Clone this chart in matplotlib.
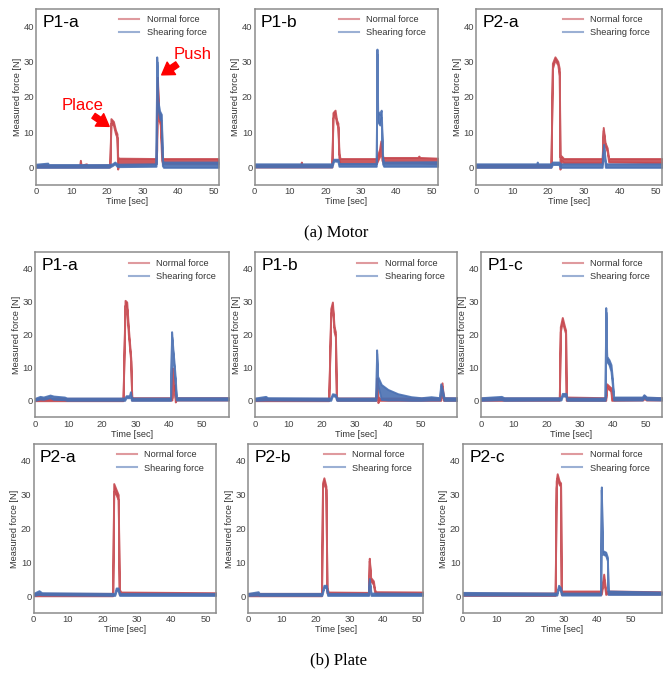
import matplotlib
matplotlib.use("Agg")
import matplotlib.pyplot as plt
from matplotlib.lines import Line2D

plt.rcParams['font.family'] = ['Liberation Sans', 'DejaVu Sans']

RED = '#C6484F'
BLUE = '#4A70B2'

# each series: (time [sec], lower edge, upper edge)
motor_p1a_normal = [(0, 0.1, 0.6), (12.3, 0.1, 0.6), (12.5, 0.1, 2.0), (12.7, 0.1, 0.6), (14.2, 0.1, 1.0),
                    (14.4, 0.1, 0.6), (20.8, 0.1, 0.7), (21.1, 12.5, 13.8), (21.8, 12.0, 13.0), (22.4, 9.5, 10.5),
                    (22.8, 8.5, 9.5), (23.0, -0.5, 3.0), (23.3, 0.8, 2.6), (33.8, 1.0, 2.5), (34.0, 5, 10),
                    (34.2, 24, 25.5), (34.5, 14, 16), (35.0, 12, 15), (35.4, 2, 5), (35.7, 1.0, 2.5), (51.3, 1.0, 2.5)]
motor_p1a_shear = [(0, 0.0, 0.9), (3.3, 0.0, 1.2), (3.5, 0, 0.8), (20.5, 0.0, 0.8), (21.5, 0.5, 1.0), (22.2, 1.0, 1.5),
                   (22.8, 0.3, 1.0), (23.2, 0.2, 0.9), (33.8, 0.3, 1.0), (34.0, 30, 31.3), (34.3, 17, 19),
                   (34.8, 14, 16), (35.3, 13, 15), (35.6, 0.5, 2), (35.9, 0.0, 1.5), (51.3, 0.0, 1.5)]

motor_p1b_normal = [(0, 0.1, 0.7), (13.0, 0.1, 0.7), (13.2, 0.1, 1.5), (13.4, 0.1, 0.7), (21.8, 0.1, 0.7),
                    (22.1, 14, 15.5), (22.7, 15, 16.2), (23.1, 12.5, 13.5), (23.5, 11.5, 12.5), (23.8, 2, 4),
                    (24.1, 1, 2.5), (34.3, 1, 2.5), (35.2, 3, 5), (35.6, 6, 7.5), (35.9, 2, 3.5), (36.3, 1.2, 2.8),
                    (46, 1.2, 2.8), (46.3, 1.2, 3.2), (46.6, 1.2, 2.8), (51.7, 1.0, 2.6)]
motor_p1b_shear = [(0, 0.1, 1.0), (21.8, 0.1, 1.0), (22.3, 1.8, 2.3), (23.5, 1.7, 2.3), (23.8, 0.3, 1.1),
                   (34.3, 0.3, 1.1), (34.5, 32, 33.5), (34.7, 13, 16), (35.3, 12, 15), (35.7, 14, 16.2),
                   (36.1, 1, 3), (36.4, 0.3, 1.5), (51.7, 0.3, 1.6)]

motor_p2a_normal = [(0, 0.1, 0.7), (20.8, 0.1, 0.7), (21.2, 28, 29.5), (21.9, 30.5, 31.3), (22.7, 29, 30),
                    (23.1, 26, 28), (23.3, -0.5, 3), (23.7, 2, 3.2), (24.3, 1.3, 2.5), (35.0, 1.3, 2.5),
                    (35.3, 10.5, 11.3), (35.8, 6, 7), (36.4, 4.5, 5.5), (36.8, 1.5, 2.5), (52, 1.3, 2.5)]
motor_p2a_shear = [(0, 0.0, 1.0), (16.8, 0, 1), (17, 0, 1.5), (17.2, 0, 1), (20.8, 0, 1), (21.2, 0.8, 1.5),
                   (23.0, 0.8, 1.5), (23.3, 0, 1), (35.0, 0, 1), (35.4, 5.5, 6.5), (35.9, 0, 1.5), (36.2, 0, 1),
                   (52, 0, 1)]

plate_p1a_normal = [(0, 0.1, 0.8), (26.3, 0.1, 0.8), (26.9, 29, 30.5), (27.4, 28, 30), (27.9, 20, 22),
                    (28.6, 12, 13), (28.9, 0.3, 1), (40.9, 0.3, 1), (41.1, 9, 10), (41.4, 3, 5), (41.7, 3, 5),
                    (41.9, -0.3, 1), (42.2, 0.3, 1), (57.8, 0.3, 1)]
plate_p1a_shear = [(0, 0.2, 0.8), (1.5, 0.6, 1.4), (2.5, 0.5, 1.2), (4.5, 1.0, 1.8), (5.5, 0.5, 1.5),
                   (8.8, 0.4, 1.2), (9.5, 0.2, 0.9), (26.8, 0.2, 0.9), (27.2, 1, 1.6), (28.2, 1, 1.6),
                   (28.5, 2, 2.8), (28.8, 0.2, 0.9), (40.5, 0.2, 0.9), (40.8, 19.5, 21), (41.2, 14, 15.5),
                   (41.5, 10, 12), (41.9, 5, 7), (42.2, 0.3, 1), (57.8, 0.3, 1)]

plate_p1b_normal = [(0, 0.1, 0.8), (22.2, 0.1, 0.8), (22.8, 26, 28), (23.3, 28.5, 30), (23.8, 21, 22.5),
                    (24.2, 19.5, 21), (24.5, 0.5, 1.5), (24.8, 0.2, 0.9), (36.4, 0.2, 0.9), (36.7, 5, 7),
                    (37.0, -0.5, 1.5), (37.3, 0.2, 0.9), (55.9, 0.2, 0.9), (56.3, 4.5, 5.5), (56.7, 0.2, 1),
                    (61, 0.2, 0.9)]
plate_p1b_shear = [(0, 0.2, 0.9), (3.2, 0.3, 1.4), (3.8, 0.3, 1.0), (22.8, 0.2, 0.9), (23.3, 1.6, 2.2),
                   (24.2, 1.4, 2.0), (24.6, 0.2, 0.9), (36.4, 0.2, 0.9), (36.6, 14.5, 15.5), (36.9, 5, 7.5),
                   (38, 0.5, 5.0), (40, 0.3, 3.5), (43, 0.3, 2.2), (47, 0.2, 1.3), (50, 0.2, 1.0), (53, 0.3, 1.3),
                   (55.6, 0.3, 1.0), (55.9, 4.5, 5.2), (56.5, 1.5, 3), (56.9, 0.2, 1), (61, 0.2, 1)]

plate_p1c_normal = [(0, 0.2, 0.9), (23.8, 0.2, 0.9), (24.1, 21, 22.5), (24.7, 24, 25.3), (25.4, 21.5, 22.5),
                    (25.7, 20.5, 21.5), (25.9, 0.2, 1.2), (37.9, 0.2, 1), (38.2, 4, 5.2), (38.9, 3.5, 4.5),
                    (39.5, 3, 4), (39.7, 0.2, 1), (49.2, 0.3, 1), (49.6, 0.8, 1.6), (50.2, 0.3, 1), (55, 0.3, 1)]
plate_p1c_shear = [(0, 0.2, 1.0), (6.2, 0.4, 1.4), (7, 0.2, 1), (24.3, 0.3, 1), (24.7, 1.5, 2.3),
                   (25.8, 1.5, 2.3), (26.1, 0.2, 0.9), (37.7, 0.2, 0.9), (37.9, 27, 28.3), (38.2, 12, 13.5),
                   (38.9, 11, 12.5), (39.5, 9, 11), (39.9, 5, 7), (40.3, 0.3, 1.2), (49, 0.3, 1.2),
                   (49.5, 1.2, 1.9), (50.3, 0.4, 1.2), (55, 0.3, 1)]

plate_p2a_normal = [(0, 0.1, 0.8), (23.0, 0.1, 0.8), (23.3, 31, 33.3), (24.0, 30, 31.5), (24.6, 28.5, 30),
                    (24.9, 0.5, 2), (25.4, 0.6, 1.2), (53, 0.4, 1.0)]
plate_p2a_shear = [(0, 0.2, 0.8), (1.6, 0.5, 1.6), (2.4, 0.4, 1.0), (23.6, 0.2, 0.8), (24.0, 1.6, 2.4),
                   (24.6, 1.6, 2.4), (25.0, 0.2, 0.8), (53, 0.2, 0.8)]

plate_p2b_normal = [(0, 0.1, 0.8), (21.7, 0.1, 0.8), (22.0, 32, 33.5), (22.4, 33.8, 35), (23.0, 31.5, 32.5),
                    (23.3, 1, 2.5), (23.7, 0.6, 1.2), (35.6, 0.5, 1.1), (35.8, 10.5, 11.2), (36.2, 4.5, 5.5),
                    (37, 3.5, 4.5), (37.4, 1, 1.8), (37.8, 0.6, 1.3), (52, 0.5, 1.2)]
plate_p2b_shear = [(0, 0.2, 0.8), (3.0, 0.3, 1.3), (3.3, 0.2, 0.8), (21.8, 0.2, 0.8), (22.4, 2.5, 3.2),
                   (23.1, 2.5, 3.2), (23.5, 0.2, 0.8), (35.6, 0.2, 0.8), (35.8, 4.5, 5.2), (36.3, 0.2, 0.9),
                   (52, 0.2, 0.8)]

plate_p2c_normal = [(0, 0.2, 0.9), (27.5, 0.2, 0.9), (27.8, 32, 34), (28.1, 35, 36.2), (28.7, 33, 34),
                    (29.1, 32.5, 33.5), (29.3, 0.5, 1.5), (29.7, 0.6, 1.5), (41.2, 0.6, 1.5), (41.9, 5, 6.5),
                    (42.5, 0.5, 1.5), (42.8, 0.7, 1.5), (59, 0.6, 1.3)]
plate_p2c_shear = [(0, 0.3, 1.1), (28.0, 0.3, 0.9), (28.5, 2.5, 3.2), (29.1, 1.5, 2.5), (29.4, 0.3, 0.9),
                   (41.0, 0.3, 0.9), (41.2, 31.5, 32.3), (41.5, 12.5, 13.5), (42.5, 12, 13), (43.0, 10.5, 11.5),
                   (43.2, 0.5, 1.5), (59, 0.5, 1.2)]

panel_names = ['P1-a', 'P1-b', 'P2-a', 'P1-a', 'P1-b', 'P1-c', 'P2-a', 'P2-b', 'P2-c']
x_limits = [51.4, 51.7, 51.6, 57.8, 60.8, 55.0, 53.0, 51.8, 59.2]
normal_series = [motor_p1a_normal, motor_p1b_normal, motor_p2a_normal,
                 plate_p1a_normal, plate_p1b_normal, plate_p1c_normal,
                 plate_p2a_normal, plate_p2b_normal, plate_p2c_normal]
shear_series = [motor_p1a_shear, motor_p1b_shear, motor_p2a_shear,
                plate_p1a_shear, plate_p1b_shear, plate_p1c_shear,
                plate_p2a_shear, plate_p2b_shear, plate_p2c_shear]

W, H = 671, 675
# axes boxes in pixels: left, right, top, bottom
boxes = [(36, 218.5, 8.5, 185), (254.5, 438, 8.5, 185), (476, 662, 8.5, 185),
         (35, 228.5, 252.5, 417.5), (255, 457, 252.5, 417.5), (481, 662, 252.5, 417.5),
         (33.5, 216, 444, 613), (248, 423.5, 444, 613), (462.5, 662, 444, 613)]

fig = plt.figure(figsize=(W / 100, H / 100), dpi=100)


def draw_series(ax, pts, color):
    t = [p[0] for p in pts]
    lo = [p[1] for p in pts]
    hi = [p[2] for p in pts]
    ax.fill_between(t, lo, hi, color=color, alpha=0.9, lw=1.4, edgecolor=color)


axes = []
for i, (l, r, t, b) in enumerate(boxes):
    ax = fig.add_axes([l / W, 1 - b / H, (r - l) / W, (b - t) / H])
    draw_series(ax, normal_series[i], RED)
    draw_series(ax, shear_series[i], BLUE)
    ax.set_xlim(0, x_limits[i])
    ax.set_ylim(-5, 45)
    ax.set_yticks([0, 10, 20, 30, 40])
    ax.set_xticks([0, 10, 20, 30, 40, 50])
    ax.tick_params(length=0, labelsize=6.8, labelcolor='#444444', pad=1.5)
    for s in ax.spines.values():
        s.set_color('#8c8c8c')
        s.set_linewidth(1.1)
    ax.set_xlabel('Time [sec]', fontsize=6.6, color='#333333', labelpad=1)
    ax.set_ylabel('Measured force [N]', fontsize=6.6, color='#333333', labelpad=1)
    ax.text(0.035, 0.965, panel_names[i], transform=ax.transAxes, fontsize=12.5,
            va='top', ha='left', color='black')
    handles = [Line2D([], [], color=RED, lw=1.5, alpha=0.55),
               Line2D([], [], color=BLUE, lw=1.5, alpha=0.55)]
    ax.legend(handles, ['Normal force', 'Shearing force'], loc='upper right',
              bbox_to_anchor=(0.97, 1.0), frameon=False, fontsize=6.6,
              handlelength=2.2, labelspacing=0.45, borderaxespad=0.3, labelcolor='#333333')
    axes.append(ax)

ax = axes[0]
arrow = dict(arrowstyle='simple,head_width=0.9,head_length=0.7,tail_width=0.35',
             color='red', mutation_scale=12, shrinkA=0, shrinkB=0)
ax.text(13, 17.5, 'Place', color='red', fontsize=12, ha='center', va='center')
ax.annotate('', xy=(20.6, 11.6), xytext=(16.2, 14.6), arrowprops=arrow)
ax.text(44, 32, 'Push', color='red', fontsize=12, ha='center', va='center')
ax.annotate('', xy=(35.4, 26.2), xytext=(39.8, 29.2), arrowprops=arrow)

fig.text(336 / W, 1 - 233 / H, '(a) Motor', family='Liberation Serif', fontsize=12,
         ha='center', va='center')
fig.text(338 / W, 1 - 660 / H, '(b) Plate', family='Liberation Serif', fontsize=12,
         ha='center', va='center')

fig.savefig('out.png', dpi=100)
